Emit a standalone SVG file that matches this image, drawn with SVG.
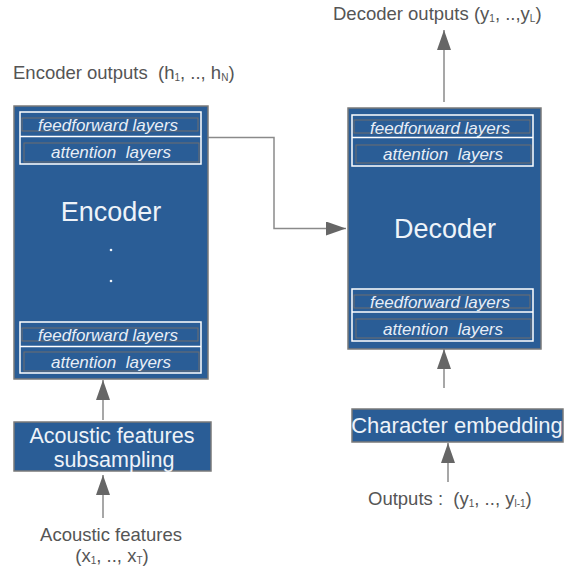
<svg xmlns="http://www.w3.org/2000/svg" width="575" height="572" viewBox="0 0 575 572">
<defs>
<style>
.blk{fill:#2a5d96;stroke:#7a7a7a;stroke-width:1.5}
.wbox{fill:none;stroke:#ffffff;stroke-width:1.5}
.gbox{fill:none;stroke:#6f6f6f;stroke-width:1}
.lay{font-family:"Liberation Sans",Arial,sans-serif;font-style:italic;font-size:17px;fill:#e8eef6;text-anchor:middle}
.big{font-family:"Liberation Sans",Arial,sans-serif;fill:#eef3f9;text-anchor:middle}
.lbl{font-family:"Liberation Sans",Arial,sans-serif;fill:#555555;font-size:18.5px}
.sub{font-size:10px}
.conn{fill:none;stroke:#8a8a8a;stroke-width:1.5}
</style>
<marker id="ah2" viewBox="0 0 20 14" refX="20" refY="7" markerWidth="20" markerHeight="14" markerUnits="userSpaceOnUse" orient="auto">
<path d="M0,0 L20,7 L0,14 z" fill="#666666"/>
</marker>
</defs>
<rect width="575" height="572" fill="#ffffff"/>

<g id="connectors">
<path class="conn" d="M200,137.5 H274 V228.5 H346" marker-end="url(#ah2)"/>
<path class="conn" d="M103,420 V380" marker-end="url(#ah2)"/>
<path class="conn" d="M103,518 V475" marker-end="url(#ah2)"/>
<path class="conn" d="M444,102 V30" marker-end="url(#ah2)"/>
<path class="conn" d="M444,388 V349" marker-end="url(#ah2)"/>
<path class="conn" d="M448,482 V443" marker-end="url(#ah2)"/>
</g>

<g id="encoder-outputs-label">
<text class="lbl" x="13" y="79" style="white-space:pre">Encoder outputs  (h<tspan class="sub" dy="2">1</tspan><tspan dy="-2">, .., h</tspan><tspan class="sub" dy="2">N</tspan><tspan dy="-2">)</tspan></text>
</g>

<g id="encoder">
<rect class="blk" x="14" y="106" width="194" height="273"/>
<rect class="wbox" x="20" y="112" width="181" height="52"/>
<line x1="20" y1="136.5" x2="201" y2="136.5" stroke="#ffffff" stroke-width="1.5"/>
<rect class="gbox" x="22" y="118" width="176" height="13"/>
<rect class="gbox" x="24" y="143" width="175" height="19"/>
<text class="lay" x="108" y="131">feedforward layers</text>
<text class="lay" x="111" y="158" style="white-space:pre">attention  layers</text>
<text class="big" x="111" y="221" font-size="27">Encoder</text>
<circle cx="111" cy="250" r="1.3" fill="#eef3f9"/>
<circle cx="111" cy="281" r="1.3" fill="#eef3f9"/>
<rect class="wbox" x="20" y="322" width="181" height="51"/>
<line x1="20" y1="346.5" x2="201" y2="346.5" stroke="#ffffff" stroke-width="1.5"/>
<rect class="gbox" x="22" y="328" width="176" height="13"/>
<rect class="gbox" x="24" y="352" width="175" height="19"/>
<text class="lay" x="108" y="341">feedforward layers</text>
<text class="lay" x="111" y="368" style="white-space:pre">attention  layers</text>
</g>

<g id="subsampling">
<rect class="blk" x="14" y="422" width="197" height="49" stroke="#5b80b0"/>
<text class="big" x="112" y="443" font-size="21.5">Acoustic features</text>
<text class="big" x="114" y="467" font-size="21.5">subsampling</text>
</g>

<g id="acoustic-features-label">
<text class="lbl" x="111" y="541" text-anchor="middle">Acoustic features</text>
<text class="lbl" x="112" y="562" text-anchor="middle">(x<tspan class="sub" dy="2">1</tspan><tspan dy="-2">, .., x</tspan><tspan class="sub" dy="2">T</tspan><tspan dy="-2">)</tspan></text>
</g>

<g id="decoder-outputs-label">
<text class="lbl" x="333" y="20">Decoder outputs (y<tspan class="sub" dy="2">1</tspan><tspan dy="-2">, ..,y</tspan><tspan class="sub" dy="2">L</tspan><tspan dy="-2">)</tspan></text>
</g>

<g id="decoder">
<rect class="blk" x="348" y="108" width="193" height="241"/>
<rect class="wbox" x="352" y="115" width="181" height="51"/>
<line x1="352" y1="137.5" x2="533" y2="137.5" stroke="#ffffff" stroke-width="1.5"/>
<rect class="gbox" x="354" y="120" width="176" height="13"/>
<rect class="gbox" x="356" y="145" width="175" height="18"/>
<text class="lay" x="440" y="134">feedforward layers</text>
<text class="lay" x="443" y="160" style="white-space:pre">attention  layers</text>
<text class="big" x="445" y="238" font-size="27">Decoder</text>
<rect class="wbox" x="352" y="289" width="181" height="52"/>
<line x1="352" y1="312" x2="533" y2="312" stroke="#ffffff" stroke-width="1.5"/>
<rect class="gbox" x="354" y="295" width="176" height="13"/>
<rect class="gbox" x="356" y="319" width="175" height="19"/>
<text class="lay" x="440" y="308">feedforward layers</text>
<text class="lay" x="443" y="335" style="white-space:pre">attention  layers</text>
</g>

<g id="char-embedding">
<rect class="blk" x="352" y="409" width="211" height="33"/>
<text class="big" x="457" y="433" font-size="22">Character embedding</text>
</g>

<g id="outputs-label">
<text class="lbl" x="368" y="505" style="white-space:pre">Outputs :  (y<tspan class="sub" dy="2">1</tspan><tspan dy="-2">, .., y</tspan><tspan class="sub" dy="2">l-1</tspan><tspan dy="-2">)</tspan></text>
</g>
</svg>
